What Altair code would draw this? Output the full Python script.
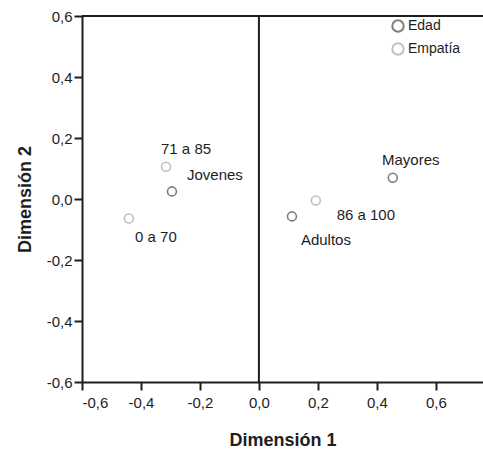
import altair as alt
import pandas as pd

# Category points in the two-dimensional solution
labels = ["Jovenes", "Adultos", "Mayores", "0 a 70", "71 a 85", "86 a 100"]
groups = ["Edad", "Edad", "Edad", "Empatía", "Empatía", "Empatía"]
dim1 = [-0.295, 0.112, 0.454, -0.441, -0.315, 0.193]
dim2 = [0.025, -0.057, 0.070, -0.064, 0.106, -0.005]
ticks = [-0.6, -0.4, -0.2, 0.0, 0.2, 0.4, 0.6]

df = pd.DataFrame({"label": labels, "group": groups, "d1": dim1, "d2": dim2})

# label placement around each point (pixels)
offsets = {
    "Jovenes": (43, -16), "Adultos": (34, 24), "Mayores": (18, -18),
    "0 a 70": (27, 18), "71 a 85": (20, -18), "86 a 100": (50, 14),
}

FONT = "Liberation Sans"
INK = "#1e1e1e"
# decimal comma and a plain hyphen for negatives
comma = "replace(replace(format(datum.value, '.1f'), '.', ','), '\u2212', '-')"

x = alt.X("d1:Q", title="Dimensión 1",
          scale=alt.Scale(domain=[-0.6, 0.76], nice=False, zero=False),
          axis=alt.Axis(values=ticks, labelExpr=comma, grid=False, domainColor=INK,
                        domainWidth=2, tickColor=INK, tickWidth=2, tickSize=8,
                        labelFont=FONT, labelFontSize=15, labelColor=INK,
                        titleFont=FONT, titleFontSize=18, titleFontWeight="bold",
                        titleColor=INK, titlePadding=21, labelPadding=5))
y = alt.Y("d2:Q", title="Dimensión 2",
          scale=alt.Scale(domain=[-0.6, 0.6], nice=False, zero=False),
          axis=alt.Axis(values=ticks, labelExpr=comma, grid=False, domainColor=INK,
                        domainWidth=2, tickColor=INK, tickWidth=2, tickSize=8,
                        labelFont=FONT, labelFontSize=15, labelColor=INK,
                        titleFont=FONT, titleFontSize=18, titleFontWeight="bold",
                        titleColor=INK, titlePadding=12, labelPadding=2))

color = alt.Color("group:N", title=None,
                  scale=alt.Scale(domain=["Edad", "Empatía"], range=["#4a4a4a", "#a8a8a8"]),
                  legend=alt.Legend(orient="none", legendX=309, legendY=3,
                                    labelFont=FONT, labelFontSize=14, labelColor=INK,
                                    symbolSize=130, symbolStrokeWidth=2,
                                    symbolType="circle", symbolFillColor="white",
                                    rowPadding=3, padding=0, labelOffset=3))

points = alt.Chart(df).mark_point(shape="circle", filled=False, size=80,
                                  strokeWidth=1.6).encode(x=x, y=y, color=color)

text_layers = []
for name, (dx, dy) in offsets.items():
    text_layers.append(
        alt.Chart(df).transform_filter(alt.datum.label == name)
        .mark_text(dx=dx, dy=dy, font=FONT, fontSize=15, color=INK,
                   align="center", baseline="middle")
        .encode(x="d1:Q", y="d2:Q", text="label:N")
    )

# vertical reference line at zero and the top frame line
vline = alt.Chart(pd.DataFrame({"v": [0.0]})).mark_rule(color=INK, strokeWidth=2).encode(x="v:Q")
hline = alt.Chart(pd.DataFrame({"h": [0.6]})).mark_rule(color=INK, strokeWidth=2).encode(y="h:Q")

chart = alt.layer(vline, hline, points, *text_layers).properties(
    width=401, height=366,
    autosize=alt.AutoSizeParams(type="none"),
    padding={"left": 82, "top": 16, "right": 0, "bottom": 68},
).configure_view(stroke=None).configure(background="white")

chart.save("out.html", embed_options={"renderer": "svg", "actions": False})
